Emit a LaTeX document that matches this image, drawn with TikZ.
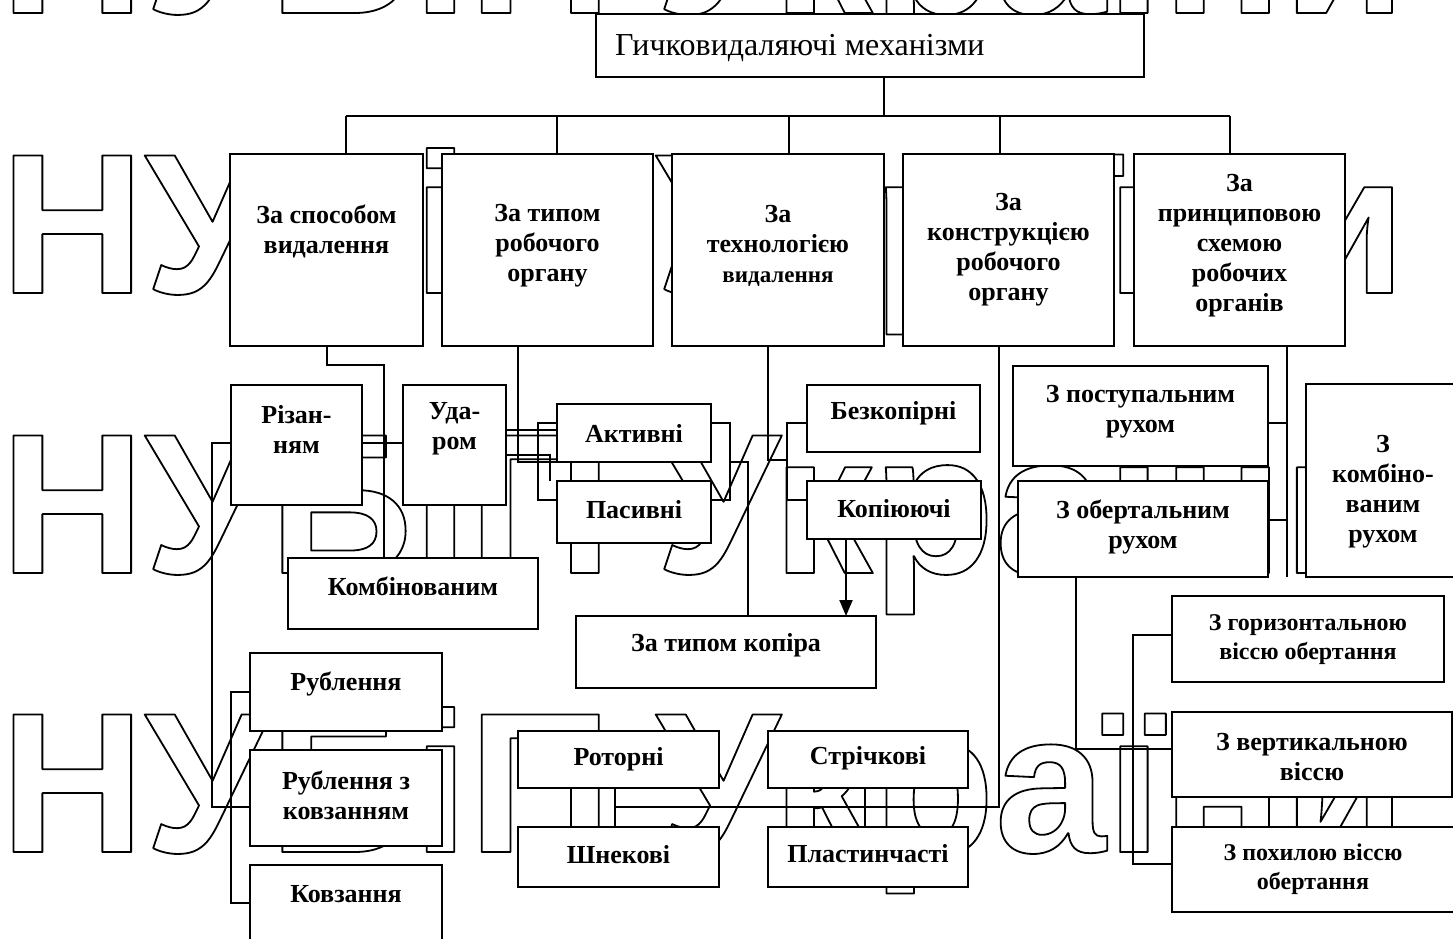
\documentclass[tikz,border=0pt]{standalone}
\usepackage{fontspec}
\setmainfont{Liberation Serif}
\newfontfamily\wmfont{Liberation Sans}
\usetikzlibrary{arrows.meta}
\pgfdeclarelayer{wmark}
\pgfdeclarelayer{lines}
\pgfsetlayers{wmark,lines,main}
\newcommand\bbox[5]{\node[boxst, minimum width={#4-#2}, minimum height={#5-#3}] (#1) at ({(#2+#4)/2},{(#3+#5)/2}) {};}
\newcommand\outl[1]{\special{pdf:literal direct 1 Tr 1.8 w 1 j}#1\special{pdf:literal direct 0 Tr 0 j}}
\begin{document}
\begin{tikzpicture}[x=1pt,y=-1pt,
  boxst/.style={draw, line width=1.8pt, fill=white, inner sep=0pt, outer sep=0pt},
  txt/.style={font=\fontsize{26}{30}\selectfont\bfseries, align=center, inner sep=0pt},
  stxt/.style={font=\fontsize{24}{29}\selectfont\bfseries, align=center, inner sep=0pt},
  ttl/.style={font=\fontsize{32}{36}\selectfont, inner sep=0pt},
  conn/.style={line width=1.3pt},
  bus/.style={line width=2pt},
  arr/.style={line width=2pt, -{Triangle[length=16pt,width=13pt]}},
  wm/.style={anchor=base west, inner sep=0pt, font=\wmfont\bfseries\fontsize{200}{200}\selectfont}]
\useasboundingbox (0,0) rectangle (1453,938);

% boxes
\bbox{title}{596}{14}{1144}{77}
\bbox{b1}{230}{154}{423}{346}
\bbox{b2}{442}{154}{653}{346}
\bbox{b3}{672}{154}{884}{346}
\bbox{b4}{903}{154}{1114}{346}
\bbox{b5}{1134}{154}{1345}{346}
\bbox{rizan}{231}{385}{362}{505}
\bbox{udar}{403}{385}{506}{505}
\bbox{komb}{288}{558}{538}{629}
\bbox{aktyv}{557}{404}{711}{462}
\bbox{pasyv}{557}{481}{711}{543}
\bbox{bezk}{807}{385}{980}{452}
\bbox{kopi}{807}{481}{981}{539}
\bbox{typkop}{576}{616}{876}{688}
\bbox{postup}{1013}{366}{1268}{466}
\bbox{obert}{1018}{481}{1268}{577}
\bbox{kombr}{1306}{384}{1470}{577}
\bbox{horiz}{1172}{596}{1444}{682}
\bbox{vert}{1172}{712}{1452}{797}
\bbox{pokh}{1172}{827}{1470}{912}
\bbox{rubl}{250}{653}{442}{731}
\bbox{rublk}{250}{750}{442}{846}
\bbox{kovz}{250}{865}{442}{960}
\bbox{rotor}{518}{731}{719}{788}
\bbox{shnek}{518}{827}{719}{887}
\bbox{strich}{768}{731}{968}{788}
\bbox{plast}{768}{827}{968}{887}

% texts
\node[ttl, anchor=base west] (titlet) at (615,55) {Гичковидаляючі механізми};
\node[txt] (b1t) at (326.5,231) {За способом\\видалення};
\node[txt] (b2t) at (547.5,246) {За типом\\робочого\\органу};
\node[txt] (b3t) at (778,246) {За\\технологією\\{\fontsize{23}{30}\selectfont видалення}};
\node[txt] (b4t) at (1008.5,250) {За\\конструкцією\\робочого\\органу};
\node[txt] (b5t) at (1239.5,246) {За\\принциповою\\схемою\\робочих\\органів};
\node[txt] (rizant) at (296.5,429) {Різан-\\ням};
\node[txt] (udart) at (454.5,429) {Уда-\\ром};
\node[txt] (kombt) at (413,586) {Комбінованим};
\node[txt] (aktyvt) at (634,433) {Активні};
\node[txt] (pasyvt) at (634,510) {Пасивні};
\node[txt] (bezkt) at (893.5,413) {Безкопірні};
\node[txt] (kopit) at (894,509) {Копіюючі};
\node[txt] (typkopt) at (726,645) {За типом копіра};
\node[txt] (postupt) at (1140.5,412) {З поступальним\\рухом};
\node[txt] (obertt) at (1143,527) {З обертальним\\рухом};
\node[txt] (kombrt) at (1383,492) {З\\комбіно-\\ваним\\рухом};
\node[stxt] (horizt) at (1308,640) {З горизонтальною\\віссю обертання};
\node[txt] (vertt) at (1312,757) {З вертикальною\\віссю};
\node[stxt] (pokht) at (1313,869) {З похилою віссю\\обертання};
\node[txt] (rublt) at (346,684) {Рублення};
\node[txt] (rublkt) at (346,795) {Рублення з\\ковзанням};
\node[txt] (kovzt) at (346,894) {Ковзання};
\node[txt] (rotort) at (618.5,759) {Роторні};
\node[txt] (shnekt) at (618.5,855) {Шнекові};
\node[txt] (stricht) at (868,758) {Стрічкові};
\node[txt] (plastt) at (868,854) {Пластинчасті};

% watermark
\begin{pgfonlayer}{wmark}
\foreach \yy [count=\i] in {13,293,573,852}
  \node[wm] (wm\i) at (0,\yy) {\outl{НУБіП\kern-12pt\ України}};
\end{pgfonlayer}

% connectors
\begin{pgfonlayer}{lines}
\coordinate (busl) at (346,116);
\coordinate (busr) at (1230,116);
\draw[conn] (title.south -| 884,0) -- (884,116);
\draw[bus] (busl) -- (busr);
\draw[conn] (busl) -- (b1.north -| busl);
\draw[conn] (557,116) -- (b2.north -| 557,0);
\draw[conn] (789,116) -- (b3.north -| 789,0);
\draw[conn] (1000,116) -- (b4.north -| 1000,0);
\draw[conn] (busr) -- (b5.north -| busr);
\draw[conn] (b1.south -| 327,0) -- (327,365) -- (384,365) -- (komb.north -| 384,0);
\draw[conn] (rizan.west |- 0,443) -- (212,443) -- (212,807) -- (rublk.west |- 0,807);
\draw[conn] (rubl.west |- 0,692) -- (231,692) -- (231,903) -- (kovz.west |- 0,903);
\draw[conn] (rizan.east |- 0,443) -- (udar.west |- 0,443);
\draw[conn] (b2.south -| 518,0) -- (518,462) -- (aktyv.south west);
\draw[conn] (aktyv.west |- 0,423) -- (538,423) -- (538,500) -- (pasyv.west |- 0,500);
\draw[conn] (udar.east |- 0,430) -- (aktyv.west |- 0,430);
\draw[conn] (udar.east |- 0,455) -- (550,455) -- (pasyv.north -| 550,0);
\draw[conn] (aktyv.east |- 0,423) -- (730,423) -- (730,500) -- (pasyv.east |- 0,500);
\draw[conn] (730,462) -- (748,462) -- (typkop.north -| 748,0);
\draw[conn] (b3.south -| 768,0) -- (768,460) -- (787,460);
\draw[conn] (bezk.west |- 0,423) -- (787,423) -- (787,500) -- (kopi.west |- 0,500);
\draw[arr] (kopi.south -| 846,0) -- (typkop.north -| 846,0);
\draw[conn] (b4.south -| 999,0) -- (999,807) -- (615,807);
\draw[conn] (rotor.south -| 615,0) -- (shnek.north -| 615,0);
\draw[conn] (strich.south -| 865,0) -- (plast.north -| 865,0);
\draw[conn] (b5.south -| 1287,0) -- (1287,577);
\draw[conn] (postup.east |- 0,423) -- (1287,423);
\draw[conn] (obert.east |- 0,520) -- (1287,520);
\draw[conn] (obert.south -| 1076,0) -- (1076,749) -- (vert.west |- 0,749);
\draw[conn] (horiz.west |- 0,635) -- (1133,635) -- (1133,864) -- (pokh.west |- 0,864);
\end{pgfonlayer}
\end{tikzpicture}
\end{document}
